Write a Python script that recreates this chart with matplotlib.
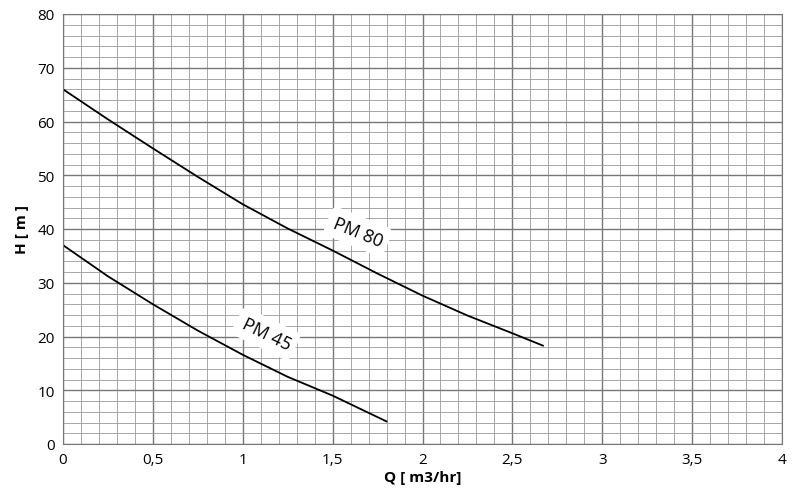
import numpy as np
import matplotlib
matplotlib.use("Agg")
import matplotlib.pyplot as plt
from matplotlib.ticker import MultipleLocator, FuncFormatter

plt.rcParams['font.family'] = ['Open Sans', 'DejaVu Sans']

# --- data ---
q80 = [0, 0.25, 0.5, 0.75, 1.0, 1.25, 1.5, 1.75, 2.0, 2.25, 2.5, 2.67]
h80 = [66, 60.4, 55, 49.7, 44.6, 40.1, 36, 31.7, 27.6, 23.9, 20.6, 18.3]
q45 = [0, 0.25, 0.5, 0.75, 1.0, 1.25, 1.5, 1.8]
h45 = [37, 31.2, 26, 21.1, 16.6, 12.5, 9, 4.2]

fig = plt.figure(figsize=(8, 5.02), dpi=100)
ax = fig.add_axes([63/800, 1-445/502, 719/800, 430/502])

ax.plot(q80, h80, color="black", lw=1.3)
ax.plot(q45, h45, color="black", lw=1.3)

ax.set_xlim(0, 4)
ax.set_ylim(0, 80)
ax.xaxis.set_major_locator(MultipleLocator(0.5))
ax.xaxis.set_minor_locator(MultipleLocator(0.1))
ax.yaxis.set_major_locator(MultipleLocator(10))
ax.yaxis.set_minor_locator(MultipleLocator(2))
ax.xaxis.set_major_formatter(FuncFormatter(lambda v, p: f"{v:g}".replace(".", ",")))
ax.grid(which="major", color="#777777", lw=1.0)
ax.grid(which="minor", color="#999999", lw=0.6)
ax.tick_params(which="both", length=0, labelsize=11, pad=6)
for s in ax.spines.values():
    s.set_color("#777777")

ax.set_xlabel("Q [ m3/hr]", fontweight="bold", fontsize=11, labelpad=2)
ax.set_ylabel("H [ m ]", fontweight="bold", fontsize=11, labelpad=6)

box = dict(boxstyle="round,pad=0.35", fc="white", ec="none")
ax.text(1.64, 39.5, "PM 80", rotation=-22, fontsize=13, ha="center", va="center", bbox=box)
ax.text(1.13, 20.5, "PM 45", rotation=-26, fontsize=13, ha="center", va="center", bbox=box)

fig.savefig("out.png", dpi=100)
